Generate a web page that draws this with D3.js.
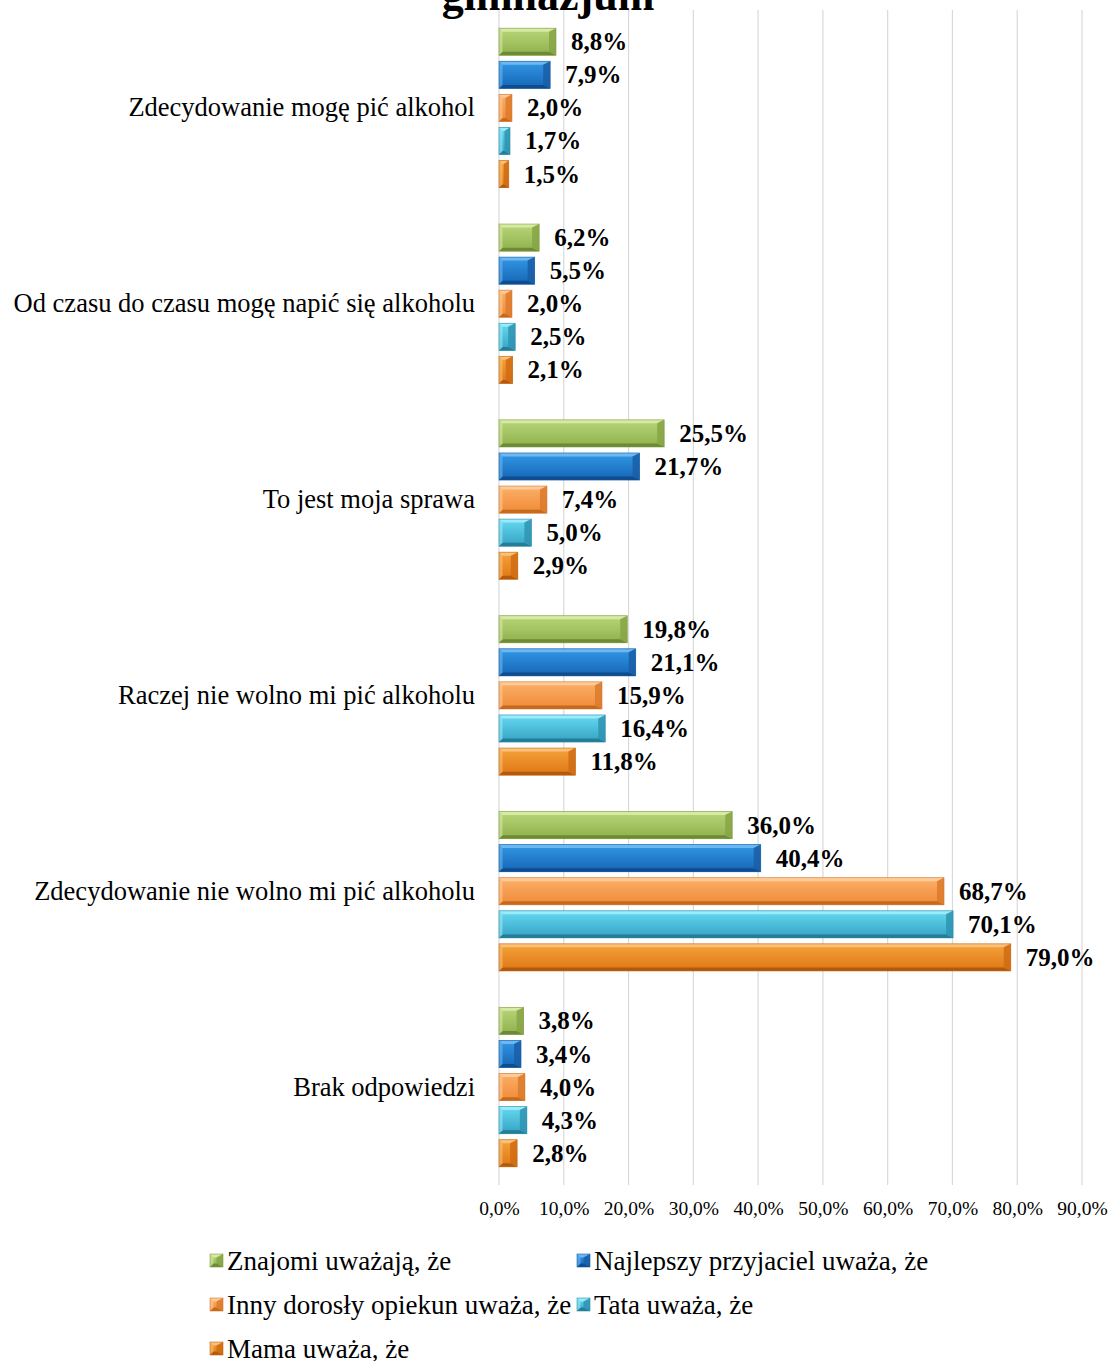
<!DOCTYPE html>
<html>
<head>
<meta charset="utf-8">
<script src="https://cdn.jsdelivr.net/npm/d3@7"></script>
<style>
  html, body { margin: 0; padding: 0; background: #fff; }
  svg { display: block; }
</style>
</head>
<body>
<svg id="chart" width="1111" height="1361"></svg>
<script>
// Answer categories (top to bottom)
const categories = [
  "Zdecydowanie mogę pić alkohol",
  "Od czasu do czasu mogę napić się alkoholu",
  "To jest moja sprawa",
  "Raczej nie wolno mi pić alkoholu",
  "Zdecydowanie nie wolno mi pić alkoholu",
  "Brak odpowiedzi"
];

// Series names (drawn top to bottom within each category)
const seriesNames = [
  "Znajomi uważają, że",
  "Najlepszy przyjaciel uważa, że",
  "Inny dorosły opiekun uważa, że",
  "Tata uważa, że",
  "Mama uważa, że"
];

// Percent values per series, in category order
const znajomi     = [8.8, 6.2, 25.5, 19.8, 36.0, 3.8];
const przyjaciel  = [7.9, 5.5, 21.7, 21.1, 40.4, 3.4];
const innyDorosly = [2.0, 2.0, 7.4, 15.9, 68.7, 4.0];
const tata        = [1.7, 2.5, 5.0, 16.4, 70.1, 4.3];
const mama        = [1.5, 2.1, 2.9, 11.8, 79.0, 2.8];

const xTicks = [0, 10, 20, 30, 40, 50, 60, 70, 80, 90];

const seriesValues = [znajomi, przyjaciel, innyDorosly, tata, mama];

// Bevel palettes: face top, face bottom, top edge, bottom edge, end facet, outline
const palettes = [
  { top: "#b9d67a", bot: "#8fb04c", hi: "#d6eaa4", lo: "#6f8a35", end: "#86a545", line: "#7b9a3e" },
  { top: "#3398e6", bot: "#1565b5", hi: "#6cb8f2", lo: "#0e4c8e", end: "#1a5ea6", line: "#14589e" },
  { top: "#fbb06a", bot: "#f08a36", hi: "#fdcb98", lo: "#c46a1f", end: "#dc7a2c", line: "#d07428" },
  { top: "#66daf2", bot: "#34a2c2", hi: "#9aeafa", lo: "#237d98", end: "#2e94b2", line: "#2a88a4" },
  { top: "#f5a33a", bot: "#df7616", hi: "#f9c27a", lo: "#b15a0e", end: "#cf6c14", line: "#c2650f" }
];

const FONT = "'Liberation Serif', 'Times New Roman', serif";

const svg = d3.select("#chart");
const defs = svg.append("defs");
palettes.forEach((p, i) => {
  const g = defs.append("linearGradient")
    .attr("id", "face" + i).attr("x1", 0).attr("y1", 0).attr("x2", 0).attr("y2", 1);
  g.append("stop").attr("offset", "0%").attr("stop-color", p.top);
  g.append("stop").attr("offset", "100%").attr("stop-color", p.bot);
});

const margin = { left: 499, right: 29, top: 10, bottom: 176 };
const plotW = 1111 - margin.left - margin.right;
const plotTop = margin.top, plotBottom = 1361 - margin.bottom;

const x = d3.scaleLinear().domain([0, 90]).range([margin.left, margin.left + plotW]);
const y0 = d3.scaleBand().domain(categories).range([plotTop, plotBottom]).paddingInner(0).paddingOuter(0);
const y1 = d3.scaleBand().domain(seriesNames).range([0, y0.bandwidth()]).paddingInner(0.18).paddingOuter(0.55);

// Title (upper lines fall outside the view)
svg.append("text")
  .attr("x", 548).attr("y", 10)
  .attr("text-anchor", "middle")
  .attr("font-family", FONT)
  .attr("font-weight", "bold")
  .attr("font-size", 44)
  .text("gimnazjum");

// Vertical gridlines
svg.append("g").selectAll("line").data(xTicks).join("line")
  .attr("x1", d => x(d)).attr("x2", d => x(d))
  .attr("y1", plotTop).attr("y2", plotBottom)
  .attr("stroke", "#d9d9d9").attr("stroke-width", 1.2);

// X-axis tick labels
const fmt = v => v.toFixed(1).replace(".", ",") + "%";
const xAxis = d3.axisBottom(x).tickValues(xTicks).tickFormat(fmt).tickSize(0).tickPadding(0);
const axG = svg.append("g").attr("transform", `translate(0,${plotBottom + 16})`).call(xAxis);
axG.select(".domain").remove();
axG.selectAll("text")
  .attr("font-family", FONT)
  .attr("font-size", 19.5).attr("fill", "#000");

// Category labels
const yAxis = d3.axisLeft(y0).tickSize(0).tickPadding(0);
const ayG = svg.append("g").attr("transform", `translate(${margin.left - 24},0)`).call(yAxis);
ayG.select(".domain").remove();
ayG.selectAll("text")
  .attr("font-family", FONT)
  .attr("font-size", 26.5).attr("fill", "#000");

// Draws a bevelled bar
function bevelBar(g, bx, by, bw, bh, pi) {
  const p = palettes[pi];
  const b = Math.min(3.5, bw / 2);
  const e = Math.min(7, bw / 2);
  g.append("rect").attr("x", bx).attr("y", by).attr("width", bw).attr("height", bh)
    .attr("fill", `url(#face${pi})`);
  // top edge
  g.append("polygon").attr("points", [[bx, by], [bx + bw, by], [bx + bw - e, by + b], [bx + b, by + b]].join(" "))
    .attr("fill", p.hi);
  // bottom edge
  g.append("polygon").attr("points", [[bx, by + bh], [bx + bw, by + bh], [bx + bw - e, by + bh - b], [bx + b, by + bh - b]].join(" "))
    .attr("fill", p.lo);
  // right end facet
  g.append("polygon").attr("points", [[bx + bw, by], [bx + bw, by + bh], [bx + bw - e, by + bh - b], [bx + bw - e, by + b]].join(" "))
    .attr("fill", p.end).attr("opacity", 0.85);
  // left facet
  g.append("polygon").attr("points", [[bx, by], [bx, by + bh], [bx + b, by + bh - b], [bx + b, by + b]].join(" "))
    .attr("fill", p.hi).attr("opacity", 0.6);
  g.append("rect").attr("x", bx).attr("y", by).attr("width", bw).attr("height", bh)
    .attr("fill", "none").attr("stroke", p.line).attr("stroke-width", 0.8).attr("opacity", 0.7);
}

const barsG = svg.append("g");
categories.forEach((cat, ci) => {
  seriesNames.forEach((s, si) => {
    const v = seriesValues[si][ci];
    const by = y0(cat) + y1(s);
    const bh = y1.bandwidth();
    const g = barsG.append("g");
    bevelBar(g, x(0), by, x(v) - x(0), bh, si);
    g.append("text")
      .attr("x", x(v) + 15).attr("y", by + bh / 2 + 8.5)
      .attr("font-family", FONT)
      .attr("font-weight", "bold").attr("font-size", 25)
      .text(fmt(v));
  });
});

// Legend
const legendPos = [
  { x: 210, y: 1261 }, { x: 577, y: 1261 },
  { x: 210, y: 1305 }, { x: 577, y: 1305 },
  { x: 210, y: 1349 }
];
const legG = svg.append("g");
seriesNames.forEach((s, si) => {
  const pos = legendPos[si];
  const g = legG.append("g");
  bevelBar(g, pos.x, pos.y - 7, 13, 13, si);
  g.append("text")
    .attr("x", pos.x + 17).attr("y", pos.y + 9)
    .attr("font-family", FONT)
    .attr("font-size", 27)
    .text(s);
});
</script>
</body>
</html>
